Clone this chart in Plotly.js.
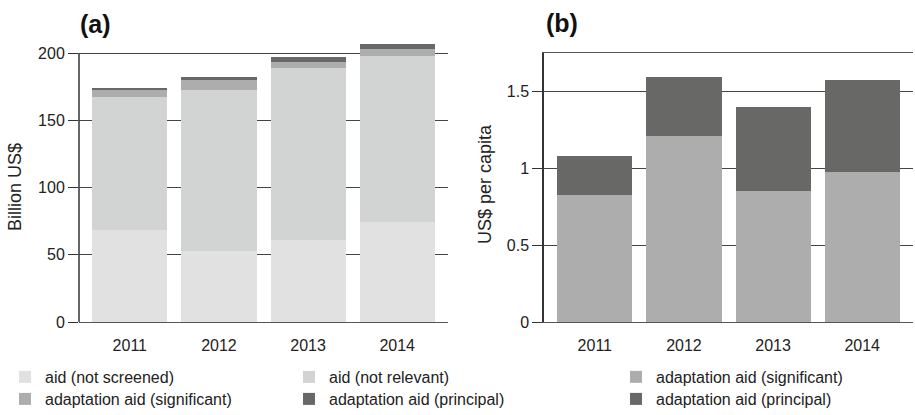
<!DOCTYPE html>
<html>
<head>
<meta charset="utf-8">
<script src="https://cdn.plot.ly/plotly-3.0.1.min.js"></script>
<style>
  html, body { margin: 0; padding: 0; background: #fff; }
  #chart { width: 915px; height: 415px; }
</style>
</head>
<body>
<div id="chart"></div>
<script>
// Years shown on both panels
const years = ['2011', '2012', '2013', '2014'];

// Panel (a): total aid broken down by Rio marker, billion US$
const aidNotScreened = [68.4, 53.0, 61.0, 74.4];
const aidNotRelevant = [99.1, 119.5, 127.8, 123.4];
const adaptSignificantA = [4.7, 7.3, 4.5, 5.2];
const adaptPrincipalA = [1.8, 2.2, 3.7, 3.7];

// Panel (b): adaptation aid per capita, US$
const adaptSignificantB = [0.827, 1.211, 0.853, 0.977];
const adaptPrincipalB = [0.254, 0.384, 0.547, 0.599];

// Tick labels of the two value axes
const ticksA = [0, 50, 100, 150, 200];
const ticksB = [0, 0.5, 1, 1.5];
const tickTextB = ['0', '0.5', '1', '1.5'];

const colors = {
  notScreened: '#e1e1e1',
  notRelevant: '#d2d4d3',
  significant: '#acadac',
  principal: '#686866'
};

const FONT = '"Liberation Sans", Arial, sans-serif';

function bar(x, y, name, color, xa, ya, legend) {
  return {
    type: 'bar', x: x, y: y, name: name,
    marker: { color: color, line: { width: 0 } },
    xaxis: xa, yaxis: ya, legend: legend,
    hoverinfo: 'x+y+name'
  };
}

// one legend box per entry so the key forms a 3 x 2 grid
const traces = [
  bar(years, aidNotScreened, 'aid (not screened)', colors.notScreened, 'x', 'y', 'legend'),
  bar(years, aidNotRelevant, 'aid (not relevant)', colors.notRelevant, 'x', 'y', 'legend2'),
  bar(years, adaptSignificantA, 'adaptation aid (significant)', colors.significant, 'x', 'y', 'legend4'),
  bar(years, adaptPrincipalA, 'adaptation aid (principal)', colors.principal, 'x', 'y', 'legend5'),
  bar(years, adaptSignificantB, 'adaptation aid (significant)', colors.significant, 'x2', 'y2', 'legend3'),
  bar(years, adaptPrincipalB, 'adaptation aid (principal)', colors.principal, 'x2', 'y2', 'legend6')
];

const W = 915, H = 415;
const px = v => v / W;
const py = v => 1 - v / H;

// panel (a) keeps headroom above 200 so the tallest stack is not clipped
const rangeA = [0, 210];
const rangeB = [0, 1.753];
const plotBottom = 322, top200 = 53;
const topA = plotBottom - (plotBottom - top200) * rangeA[1] / 200;

const xCommon = {
  type: 'category',
  range: [-0.57, 3.57],
  showgrid: false,
  zeroline: false,
  showline: true,
  linecolor: '#555',
  linewidth: 1,
  ticks: '',
  ticklabelstandoff: 9,
  tickfont: { family: FONT, size: 16, color: '#222' },
  fixedrange: true
};

const yCommon = {
  ticks: 'outside',
  ticklen: 10,
  tickwidth: 1,
  tickcolor: '#333',
  showgrid: true,
  gridcolor: '#444',
  gridwidth: 1,
  zeroline: false,
  tickfont: { family: FONT, size: 16, color: '#222' },
  automargin: false,
  fixedrange: true
};

function legendAt(x, yc) {
  return {
    orientation: 'v',
    xanchor: 'left',
    yanchor: 'middle',
    x: px(x),
    y: py(yc),
    font: { family: FONT, size: 16, color: '#222' },
    bgcolor: 'rgba(0,0,0,0)',
    borderwidth: 0,
    itemclick: false,
    itemdoubleclick: false
  };
}

const legendCols = [5, 289, 616];
const legendRows = [377, 399];

const layout = {
  width: W, height: H,
  margin: { l: 0, r: 0, t: 0, b: 0, autoexpand: false },
  paper_bgcolor: '#fff',
  plot_bgcolor: '#fff',
  barmode: 'stack',
  bargap: 0.157,
  showlegend: true,
  font: { family: FONT, color: '#222' },
  xaxis: Object.assign({}, xCommon, { domain: [px(79), px(448)], anchor: 'y' }),
  yaxis: Object.assign({}, yCommon, {
    domain: [py(plotBottom), py(topA)], anchor: 'x',
    range: rangeA, tickvals: ticksA, showline: false
  }),
  xaxis2: Object.assign({}, xCommon, { domain: [px(544), px(913)], anchor: 'y2', mirror: true }),
  yaxis2: Object.assign({}, yCommon, {
    domain: [py(plotBottom), py(top200)], anchor: 'x2',
    range: rangeB, tickvals: ticksB, ticktext: tickTextB,
    showline: true, linecolor: '#333', linewidth: 1.5
  }),
  legend: legendAt(legendCols[0], legendRows[0]),
  legend2: legendAt(legendCols[1], legendRows[0]),
  legend3: legendAt(legendCols[2], legendRows[0]),
  legend4: legendAt(legendCols[0], legendRows[1]),
  legend5: legendAt(legendCols[1], legendRows[1]),
  legend6: legendAt(legendCols[2], legendRows[1]),
  shapes: [
    // value axis of panel (a), drawn from 0 up to the 200 tick
    { type: 'line', xref: 'x domain', yref: 'y', x0: 0, x1: 0, y0: 0, y1: 200,
      line: { color: '#333', width: 1.5 }, layer: 'above' }
  ],
  annotations: [
    { text: '<b>(a)</b>', x: px(78), y: py(24), xref: 'paper', yref: 'paper',
      xanchor: 'left', yanchor: 'middle',
      showarrow: false, font: { family: FONT, size: 25, color: '#111' } },
    { text: '<b>(b)</b>', x: px(544), y: py(23), xref: 'paper', yref: 'paper',
      xanchor: 'left', yanchor: 'middle',
      showarrow: false, font: { family: FONT, size: 25, color: '#111' } },
    { text: 'Billion US$', x: px(15), y: py(187), xref: 'paper', yref: 'paper',
      textangle: -90, xanchor: 'center', yanchor: 'middle',
      showarrow: false, font: { family: FONT, size: 18, color: '#222' } },
    { text: 'US$ per capita', x: px(485), y: py(184), xref: 'paper', yref: 'paper',
      textangle: -90, xanchor: 'center', yanchor: 'middle',
      showarrow: false, font: { family: FONT, size: 18, color: '#222' } }
  ]
};

Plotly.newPlot('chart', traces, layout, { displayModeBar: false });
</script>
</body>
</html>
